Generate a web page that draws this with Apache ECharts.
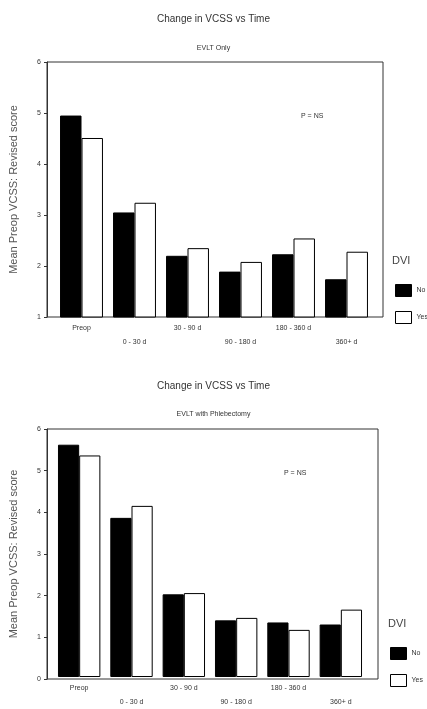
<!DOCTYPE html>
<html>
<head>
<meta charset="utf-8">
<script src="https://cdn.jsdelivr.net/npm/echarts@6/dist/echarts.min.js"></script>
<style>
  html, body { margin: 0; padding: 0; background: #fff; }
  #main { width: 427px; height: 709px; }
</style>
</head>
<body>
<div id="main"></div>
<script>
// values
var categories = ["Preop", "0 - 30 d", "30 - 90 d", "90 - 180 d", "180 - 360 d", "360+ d"];
var evltNo = [4.95, 3.05, 2.20, 1.89, 2.23, 1.74];
var evltYes = [4.51, 3.24, 2.35, 2.08, 2.54, 2.28];
var phlebNo = [5.62, 3.85, 2.00, 1.37, 1.32, 1.27];
var phlebYes = [5.36, 4.14, 2.03, 1.43, 1.14, 1.63];
var topRange = [1, 6];
var bottomRange = [0, 6];

var font = "Liberation Sans";
var ink = "#333";

var chart = echarts.init(document.getElementById("main"));

function frameY(grid, range) {
  return {
    gridIndex: grid, type: "value", min: range[0], max: range[1], interval: 1,
    name: "Mean Preop VCSS: Revised score", nameLocation: "middle", nameRotate: 90, nameGap: 28,
    nameTextStyle: { fontFamily: font, fontSize: 11, color: "#555" },
    axisLine: { show: true, lineStyle: { color: ink } },
    axisTick: { show: true, length: 3, lineStyle: { color: ink } },
    axisLabel: { fontFamily: font, fontSize: 7, color: ink, margin: 6 },
    splitLine: { show: false }
  };
}
function hiddenY(grid, range) {
  return { gridIndex: grid, type: "value", min: range[0], max: range[1], show: false, splitLine: { show: false } };
}
function barX(grid) {
  return {
    gridIndex: grid, type: "category", data: categories,
    axisLine: { show: false }, axisTick: { show: false },
    axisLabel: {
      interval: 0, fontFamily: font, fontSize: 7, color: ink, margin: 4, lineHeight: 14,
      formatter: function (v, i) { return i % 2 ? "\n" + v : v; }
    }
  };
}
function bars(name, data, grid, fill) {
  return {
    name: name, type: "bar", xAxisIndex: grid, yAxisIndex: grid, data: data,
    barGap: "0%", barCategoryGap: "19%",
    itemStyle: { color: fill, borderColor: "#000", borderWidth: 1 }
  };
}
function legend(left, top) {
  return {
    data: ["No", "Yes"], orient: "vertical", left: left, top: top,
    itemWidth: 16, itemHeight: 12, itemGap: 14, icon: "rect",
    itemStyle: { borderWidth: 1, borderColor: "#000" },
    textStyle: { fontFamily: font, fontSize: 7, color: ink }, selectedMode: false
  };
}

chart.setOption({
  animation: false,
  title: [
    { text: "Change in VCSS vs Time", left: "center", top: 9, textStyle: { fontFamily: font, fontSize: 10, fontWeight: "normal", color: "#333" } },
    { text: "EVLT Only", left: "center", top: 40, textStyle: { fontFamily: font, fontSize: 7, fontWeight: "normal", color: "#333" } },
    { text: "P = NS", left: 296, top: 108, textStyle: { fontFamily: font, fontSize: 7, fontWeight: "normal", color: "#333" } },
    { text: "DVI", left: 387, top: 250, textStyle: { fontFamily: font, fontSize: 11, fontWeight: "normal", color: "#444" } },
    { text: "Change in VCSS vs Time", left: "center", top: 376, textStyle: { fontFamily: font, fontSize: 10, fontWeight: "normal", color: "#333" } },
    { text: "EVLT with Phlebectomy", left: "center", top: 406, textStyle: { fontFamily: font, fontSize: 7, fontWeight: "normal", color: "#333" } },
    { text: "P = NS", left: 279, top: 465, textStyle: { fontFamily: font, fontSize: 7, fontWeight: "normal", color: "#333" } },
    { text: "DVI", left: 383, top: 613, textStyle: { fontFamily: font, fontSize: 11, fontWeight: "normal", color: "#444" } }
  ],
  legend: [legend(390, 279), legend(385, 642)],
  grid: [
    { left: 43, width: 340, top: 62, height: 255, show: true, borderColor: ink, borderWidth: 1 },
    { left: 55, width: 318, top: 62, height: 255 },
    { left: 41, width: 337, top: 429, height: 250, show: true, borderColor: ink, borderWidth: 1 },
    { left: 53, width: 314, top: 429, height: 250 }
  ],
  xAxis: [
    { gridIndex: 0, type: "value", show: false },
    barX(1),
    { gridIndex: 2, type: "value", show: false },
    barX(3)
  ],
  yAxis: [
    frameY(0, topRange),
    hiddenY(1, topRange),
    frameY(2, bottomRange),
    hiddenY(3, bottomRange)
  ],
  series: [
    bars("No", evltNo, 1, "#000"),
    bars("Yes", evltYes, 1, "#fff"),
    bars("No", phlebNo, 3, "#000"),
    bars("Yes", phlebYes, 3, "#fff")
  ]
});
</script>
</body>
</html>
